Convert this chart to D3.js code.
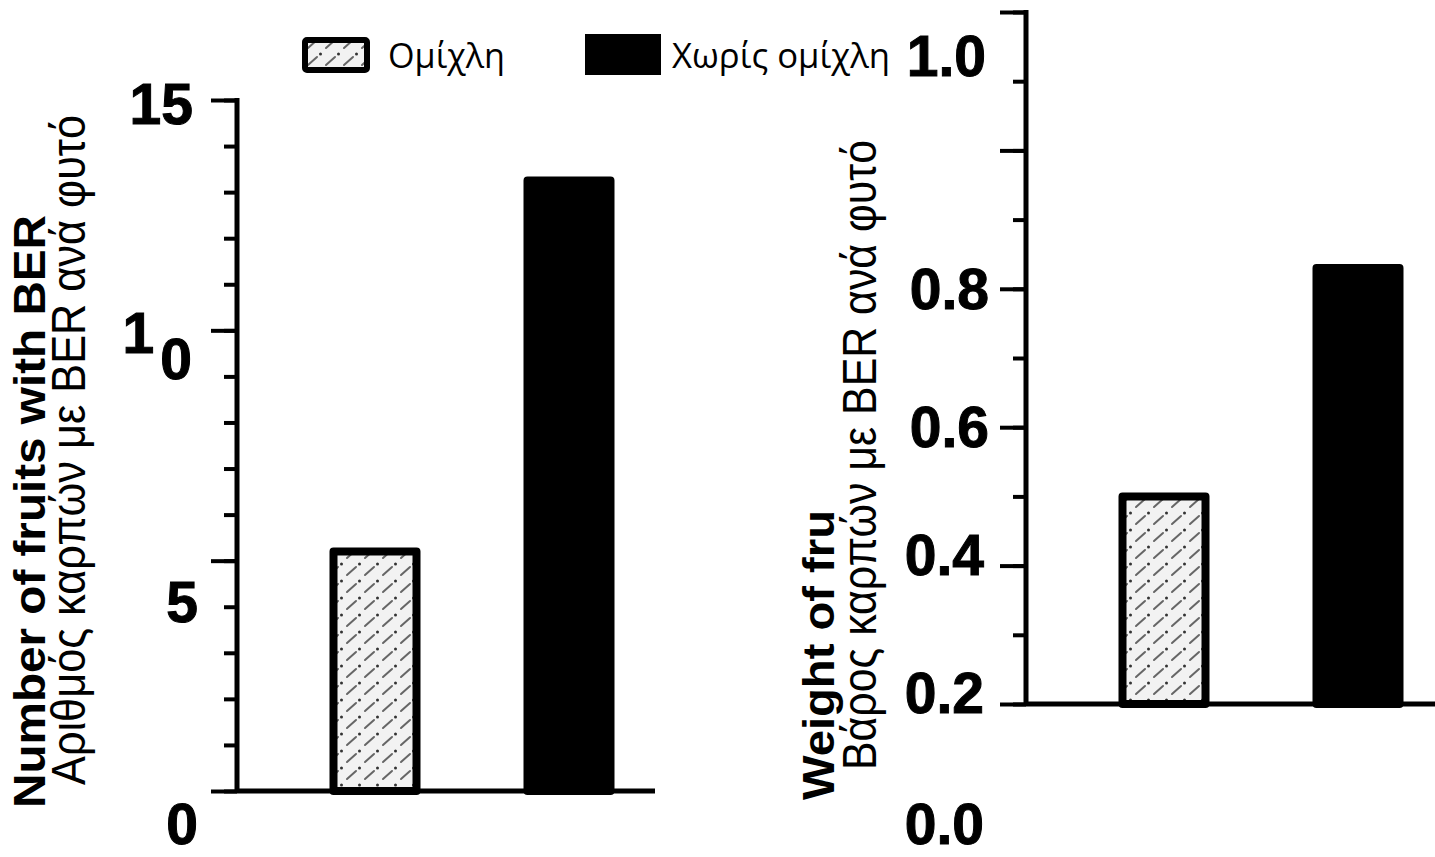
<!DOCTYPE html>
<meta charset="utf-8">
<head>
  <title>BER bars</title>
</head>
<style>
body { margin: 0; background: #fff; }
svg { display: block; }
.tick-lbl { font-family: "Liberation Sans", Arial, sans-serif; font-weight: bold; font-size: 57px; fill: #000; stroke: #000; stroke-width: 1; }
.title-en { font-family: "Liberation Sans", Arial, sans-serif; font-weight: bold; font-size: 44px; fill: #000; }
.title-gr { font-family: "Liberation Sans", Arial, sans-serif; font-size: 49px; fill: #000; }
.legend { font-family: "Open Sans", "Noto Sans", sans-serif; font-size: 34px; fill: #000; }
</style>
<body>
<svg width="1435" height="857"></svg>

<script src="https://cdnjs.cloudflare.com/ajax/libs/d3/7.8.5/d3.min.js"></script>
<script>
// categories (legend / treatments)
var categories = ["Ομίχλη", "Χωρίς ομίχλη"]

// number of fruits with BER per plant
var countValues = [5.2, 13.25]
var countTicks = [15, 10, 5, 0]

// weight of fruits with BER per plant
var weightValues = [0.5, 0.83]
var weightTicks = [1.0, 0.8, 0.6, 0.4, 0.2, 0.0]

var svg = d3.select("svg")

// light grey hatch used for the fog bars
var defs = svg.append("defs")
var pat = defs.append("pattern")
  .attr("id", "fog")
  .attr("patternUnits", "userSpaceOnUse")
  .attr("width", 18).attr("height", 17)
pat.append("rect").attr("width", 18).attr("height", 17).attr("fill", "#f2f2f2")
pat.append("line")
  .attr("x1", 2).attr("y1", 14).attr("x2", 11).attr("y2", 6)
  .attr("stroke", "#666").attr("stroke-width", 2)
  .attr("stroke-linecap", "round")
pat.append("circle").attr("cx", 14.5).attr("cy", 3).attr("r", 1.5).attr("fill", "#333")

var fills = ["url(#fog)", "#000"]

function drawPanel(opt) {
  var g = svg.append("g").attr("transform", "translate(" + opt.x0 + ",0)")

  var y = d3.scaleLinear().domain(opt.domain).range(opt.range)
  var x = d3.scalePoint().domain(categories).range([138, 332])

  // bars
  g.selectAll("rect.bar")
    .data(opt.values)
    .enter().append("rect")
    .attr("class", "bar")
    .attr("x", function(d, i) { return x(categories[i]) - 41.5 })
    .attr("width", 83)
    .attr("y", function(d) { return y(d) })
    .attr("height", function(d) { return y(opt.domain[0]) - y(d) })
    .attr("fill", function(d, i) { return fills[i] })
    .attr("stroke", "#000")
    .attr("stroke-width", 8)
    .attr("stroke-linejoin", "round")

  // minor + major ticks
  g.append("g").call(d3.axisLeft(y).tickValues(opt.minor).tickSize(13).tickFormat(""))
  g.append("g").call(d3.axisLeft(y).tickValues(opt.major).tickSize(26).tickFormat(""))
  g.selectAll(".domain").remove()
  g.selectAll(".tick line").attr("stroke", "#000").attr("stroke-width", 4)

  // axis lines
  g.append("line")
    .attr("x1", 0).attr("x2", 0)
    .attr("y1", opt.range[1] - 2).attr("y2", opt.range[0] + 2)
    .attr("stroke", "#000").attr("stroke-width", 5)
  g.append("line")
    .attr("x1", 0).attr("x2", opt.xEnd)
    .attr("y1", y(opt.domain[0])).attr("y2", y(opt.domain[0]))
    .attr("stroke", "#000").attr("stroke-width", 5)

  // tick labels
  opt.ticks.forEach(function(t) {
    var nudge = opt.nudge(t)
    var cy = y(t) + nudge.dy
    var txt = g.append("text")
      .attr("class", "tick-lbl")
      .attr("text-anchor", "end")
      .attr("x", nudge.x)
      .attr("y", cy + 20)
    if (nudge.split) {
      txt.append("tspan").text(opt.fmt(t).slice(0, 1)).attr("dy", -26)
      txt.append("tspan").text(opt.fmt(t).slice(1)).attr("dy", 26).attr("dx", 6)
    } else {
      txt.text(opt.fmt(t))
    }
  })

  return { g: g, y: y }
}

// left panel
drawPanel({
  x0: 237,
  domain: [0, 15],
  range: [791, 100],
  values: countValues,
  minor: d3.range(0, 16),
  major: [0, 5, 10, 15],
  ticks: countTicks,
  xEnd: 418,
  fmt: d3.format("d"),
  nudge: function(t) {
    if (t === 15) return { x: -44, dy: 4 }
    if (t === 10) return { x: -45, dy: 29, split: true }
    if (t === 0) return { x: -39, dy: 33 }
    return { x: -39, dy: 41 }
  }
})

// right panel
drawPanel({
  x0: 1026,
  domain: [0.2, 1.2],
  range: [704, 12],
  values: weightValues,
  minor: d3.range(2, 13).map(function(v) { return v / 10 }),
  major: [0.2, 0.4, 0.6, 0.8, 1.0, 1.2],
  ticks: weightTicks.filter(function(t) { return t > 0 }),
  xEnd: 420,
  fmt: d3.format(".1f"),
  nudge: function(t) {
    if (t === 1.0) return { x: -40, dy: -94 }
    if (t >= 0.6) return { x: -37, dy: 0 }
    return { x: -42, dy: -11 }
  }
})
// 0.0 label sits below the cropped right axis
var yW = d3.scaleLinear().domain([0.2, 1.2]).range([704, 12])
svg.append("text")
  .attr("class", "tick-lbl")
  .attr("text-anchor", "end")
  .attr("x", 1026 - 42)
  .attr("y", yW(weightTicks[5]) - 18 + 20)
  .text(d3.format(".1f")(weightTicks[5]))

// axis titles (rotated)
function vtitle(cls, x, y, len, str) {
  svg.append("text")
    .attr("class", cls)
    .attr("transform", "translate(" + x + "," + y + ") rotate(-90)")
    .attr("textLength", len)
    .attr("lengthAdjust", "spacingAndGlyphs")
    .text(str)
}
vtitle("title-en", 45, 808, 593, "Number of fruits with BER")
vtitle("title-gr", 85, 785, 670, "Αριθμός καρπών με BER ανά φυτό")
vtitle("title-en", 834, 800, 290, "Weight of fru")
vtitle("title-gr", 876, 770, 630, "Βάρος καρπών με BER ανά φυτό")

// legend
var leg = svg.append("g")
leg.append("rect")
  .attr("x", 305).attr("y", 40).attr("width", 62).attr("height", 30)
  .attr("fill", fills[0]).attr("stroke", "#000").attr("stroke-width", 6)
  .attr("rx", 2)
leg.append("text").attr("class", "legend").attr("x", 388).attr("y", 68)
  .attr("textLength", 117).attr("lengthAdjust", "spacingAndGlyphs")
  .text(categories[0])
leg.append("rect")
  .attr("x", 585).attr("y", 34).attr("width", 76).attr("height", 41)
  .attr("fill", fills[1])
leg.append("text").attr("class", "legend").attr("x", 672).attr("y", 68)
  .attr("textLength", 218).attr("lengthAdjust", "spacingAndGlyphs")
  .text(categories[1])
</script>
</body>
